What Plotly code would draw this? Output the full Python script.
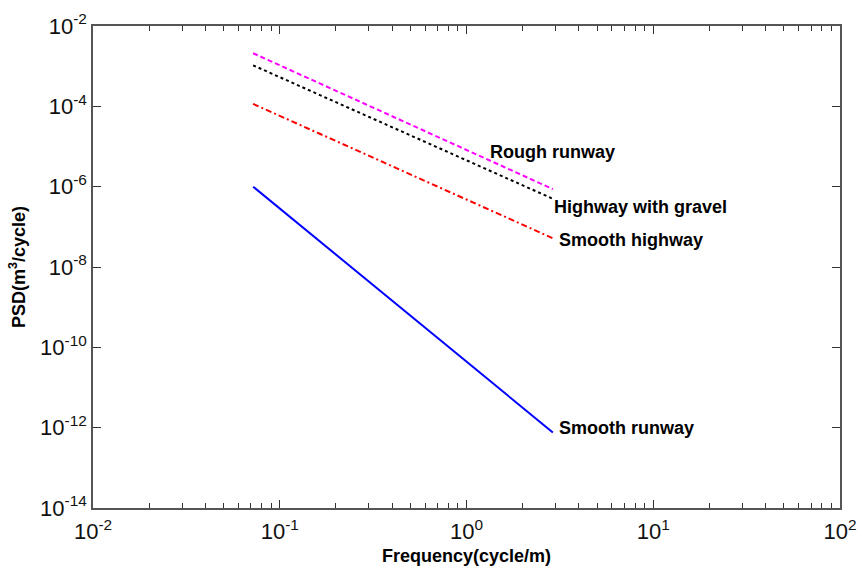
import plotly.graph_objects as go

# Data
freq = [0.072, 2.9]
rough_runway = [2.1e-3, 8.7e-7]
highway_gravel = [1.05e-3, 5.0e-7]
smooth_highway = [1.15e-4, 5.2e-8]
smooth_runway = [1.0e-6, 7.6e-13]

x_tickvals = [1e-2, 1e-1, 1e0, 1e1, 1e2]
x_ticktext = ["10<sup>-2</sup>", "10<sup>-1</sup>", "10<sup>0</sup>", "10<sup>1</sup>", "10<sup>2</sup>"]
y_tickvals = [1e-14, 1e-12, 1e-10, 1e-8, 1e-6, 1e-4, 1e-2]
y_ticktext = ["10<sup>-14</sup>", "10<sup>-12</sup>", "10<sup>-10</sup>", "10<sup>-8</sup>",
              "10<sup>-6</sup>", "10<sup>-4</sup>", "10<sup>-2</sup>"]

labels = ["Rough runway", "Highway with gravel", "Smooth highway", "Smooth runway"]

fig = go.Figure()
fig.add_trace(go.Scatter(x=freq, y=rough_runway, mode="lines",
                         line=dict(color="#FF00FF", width=2, dash="5px,3px")))
fig.add_trace(go.Scatter(x=freq, y=highway_gravel, mode="lines",
                         line=dict(color="black", width=2, dash="dot")))
fig.add_trace(go.Scatter(x=freq, y=smooth_highway, mode="lines",
                         line=dict(color="#FF0000", width=2, dash="6px,3px,2px,3px")))
fig.add_trace(go.Scatter(x=freq, y=smooth_runway, mode="lines",
                         line=dict(color="#0000FF", width=2)))

ann_pos = [(0.529, 0.739), (0.614, 0.625), (0.621, 0.556), (0.621, 0.166)]
for text, (ax, ay) in zip(labels, ann_pos):
    fig.add_annotation(x=ax, y=ay, xref="paper", yref="paper", text="<b>%s</b>" % text,
                       showarrow=False, xanchor="left", yanchor="middle",
                       font=dict(family="Liberation Sans, Arial", size=18, color="black"))

axis_common = dict(type="log", showgrid=False, zeroline=False, showline=True,
                   linecolor="#555555", linewidth=1.5, mirror="ticks", automargin=False,
                   ticks="inside", ticklen=8, tickcolor="#333333", tickwidth=1,
                   tickfont=dict(family="Liberation Sans, Arial", size=22, color="#111111"))

fig.update_xaxes(**axis_common, range=[-2, 2], tickmode="array",
                 tickvals=x_tickvals, ticktext=x_ticktext, ticklabelstandoff=3,
                 minor=dict(ticks="inside", ticklen=5, tickcolor="#333333", dtick="D1", showgrid=False),
                 title=dict(text="<b>Frequency(cycle/m)</b>", standoff=6,
                            font=dict(family="Liberation Sans, Arial", size=18, color="black")))
fig.update_yaxes(**axis_common, range=[-14, -2], tickmode="array",
                 tickvals=y_tickvals, ticktext=y_ticktext,
                 title=dict(text="<b>PSD(m<sup>3</sup>/cycle)</b>", standoff=10,
                            font=dict(family="Liberation Sans, Arial", size=18, color="black")))

fig.update_layout(width=858, height=568, showlegend=False,
                  margin=dict(l=93, r=18, t=26, b=60),
                  plot_bgcolor="white", paper_bgcolor="white")

fig.write_html("out.html")
